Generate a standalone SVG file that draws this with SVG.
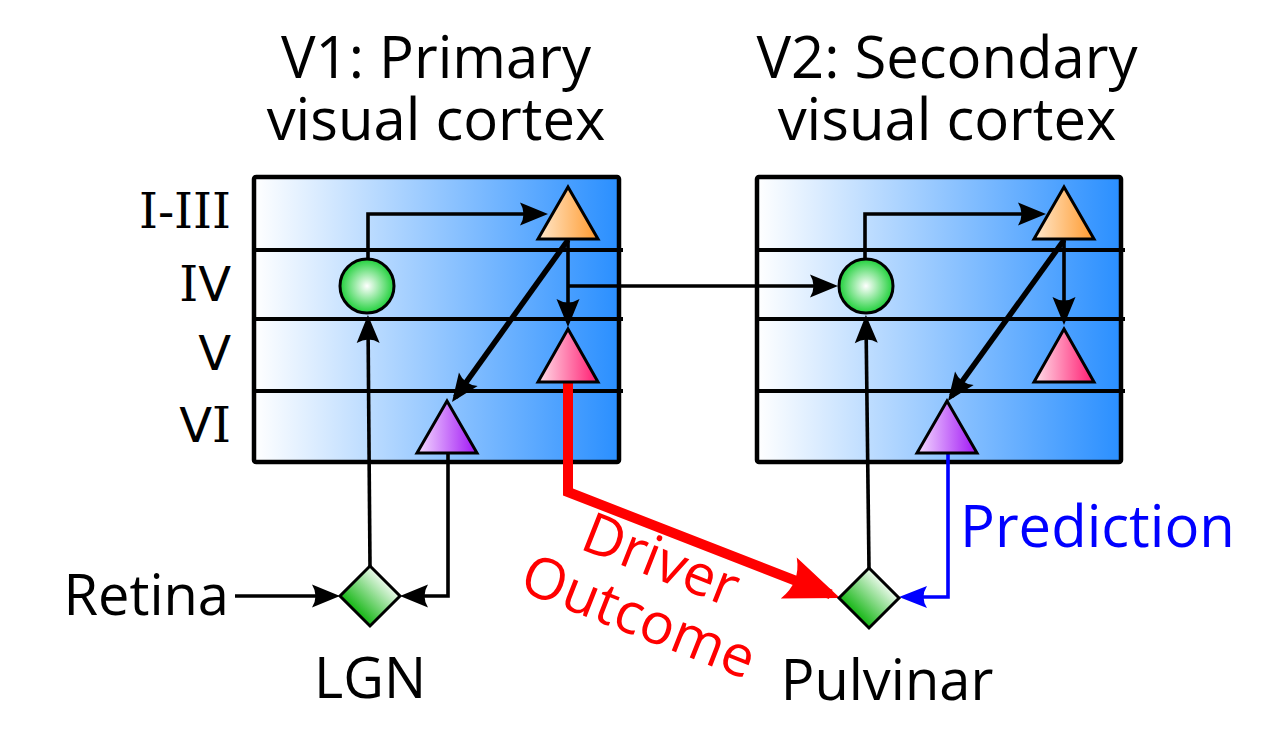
<svg xmlns="http://www.w3.org/2000/svg" width="1280" height="756" viewBox="0 0 1280 756">
<style>
text{font-family:"Open Sans","Noto Sans","DejaVu Sans",sans-serif;fill:#000}
.title{font-size:58px;text-anchor:middle}
.lbl{font-size:56px}
.layer{font-size:48px;text-anchor:end;font-family:"DejaVu Sans",sans-serif}
.ser{font-family:"DejaVu Serif",serif}
.box{stroke:#000;stroke-width:4.5;fill:url(#boxGrad)}
.sep{stroke:#000;stroke-width:4;fill:none}
.node{stroke:#000;stroke-width:3;stroke-linejoin:miter}
.conn{fill:none;stroke:#000;stroke-width:3.6;stroke-linejoin:miter}
.thick{stroke-width:5.5}
</style>
<defs>
<linearGradient id="boxGrad" x1="0" y1="0" x2="1" y2="0"><stop offset="0" stop-color="#ffffff"/><stop offset="1" stop-color="#2a8fff"/></linearGradient>
<radialGradient id="circGrad" cx="0.5" cy="0.5" r="0.5"><stop offset="0" stop-color="#ffffff"/><stop offset="1" stop-color="#1fd03a"/></radialGradient>
<linearGradient id="orGrad" x1="0" y1="0" x2="1" y2="0"><stop offset="0" stop-color="#ffe8cc"/><stop offset="1" stop-color="#ff9a2e"/></linearGradient>
<linearGradient id="pkGrad" x1="0" y1="0" x2="1" y2="0"><stop offset="0" stop-color="#ffe0ea"/><stop offset="1" stop-color="#ff1a70"/></linearGradient>
<linearGradient id="puGrad" x1="0" y1="0" x2="1" y2="0"><stop offset="0" stop-color="#f5dcff"/><stop offset="1" stop-color="#a015f5"/></linearGradient>
<linearGradient id="dmGrad" x1="0.8" y1="0.2" x2="0.2" y2="0.8"><stop offset="0" stop-color="#ffffff"/><stop offset="1" stop-color="#00b000"/></linearGradient>
<marker id="arrB" markerUnits="userSpaceOnUse" viewBox="-24 -12 32 24" markerWidth="32" markerHeight="24" refX="0" refY="0" orient="auto"><path d="M6,0 L-22,-11.5 Q-15,0 -22,11.5 Z" fill="#000"/></marker>
<marker id="arrU" markerUnits="userSpaceOnUse" viewBox="-24 -12 32 24" markerWidth="32" markerHeight="24" refX="0" refY="0" orient="auto"><path d="M6,0 L-22,-11 Q-15,0 -22,11 Z" fill="#0000ff"/></marker>
<marker id="arrR" markerUnits="userSpaceOnUse" viewBox="-48 -24 60 48" markerWidth="60" markerHeight="48" refX="0" refY="0" orient="auto"><path d="M10,0 L-45,-22 Q-32,0 -45,22 Z" fill="#ff0000"/></marker>
</defs>

<rect width="1280" height="756" fill="#ffffff"/>

<g id="v1-title"><text class="title"><tspan x="436" y="78">V1: Primary</tspan><tspan x="436" y="140">visual cortex</tspan></text></g>
<g id="v2-title"><text class="title"><tspan x="947" y="78">V2: Secondary</tspan><tspan x="947" y="140">visual cortex</tspan></text></g>

<g id="layer-labels">
<text class="layer" x="231" y="228"><tspan class="ser">I-III</tspan></text>
<text class="layer" x="231" y="301"><tspan class="ser">I</tspan>V</text>
<text class="layer" x="231" y="370">V</text>
<text class="layer" x="231" y="442">V<tspan class="ser">I</tspan></text>
</g>

<g id="v1-box">
<rect class="box" x="254" y="177" width="365" height="285" rx="2"/>
<path class="sep" d="M254,250 H623 M254,319 H623 M254,391 H623"/>
</g>
<g id="v2-box">
<rect class="box" x="757" y="177" width="364" height="285" rx="2"/>
<path class="sep" d="M757,250 H1125 M757,319 H1125 M757,391 H1125"/>
</g>

<g id="connectors">
<path class="conn" d="M235,596 H334" marker-end="url(#arrB)"/>
<path class="conn" d="M370,566 L368,321" marker-end="url(#arrB)"/>
<path class="conn" d="M448,453 V596 H406" marker-end="url(#arrB)"/>
<path class="conn" d="M368,259 V214 H542" marker-end="url(#arrB)"/>
<path class="conn" d="M568,240 V321" marker-end="url(#arrB)"/>
<path class="conn" d="M568,286 H832" marker-end="url(#arrB)"/>
<path class="conn thick" d="M568,240 L455.5,397.1" marker-end="url(#arrB)"/>
<path class="conn" d="M865,259 V214 H1040" marker-end="url(#arrB)"/>
<path class="conn" d="M1064,240 V319" marker-end="url(#arrB)"/>
<path class="conn thick" d="M1064,240 L951.5,396.1" marker-end="url(#arrB)"/>
<path class="conn" d="M869,568 L866,321" marker-end="url(#arrB)"/>
<path class="conn" d="M948,453 V597 H905" style="stroke:#0000ff" marker-end="url(#arrU)"/>
<path class="conn" d="M568,382 V492 L830.7,594.4" style="stroke:#ff0000;stroke-width:10" marker-end="url(#arrR)"/>
</g>

<g id="v1-iv-cell"><circle class="node" cx="367" cy="286" r="27" fill="url(#circGrad)"/></g>
<g id="v1-i-iii-cell"><path class="node" d="M568,187 L598,239 L538,239 Z" fill="url(#orGrad)"/></g>
<g id="v1-v-cell"><path class="node" d="M568,329 L598,382 L538,382 Z" fill="url(#pkGrad)"/></g>
<g id="v1-vi-cell"><path class="node" d="M447,401 L477,453 L417,453 Z" fill="url(#puGrad)"/></g>

<g id="v2-iv-cell"><circle class="node" cx="866" cy="286" r="27" fill="url(#circGrad)"/></g>
<g id="v2-i-iii-cell"><path class="node" d="M1064,187 L1094,239 L1034,239 Z" fill="url(#orGrad)"/></g>
<g id="v2-v-cell"><path class="node" d="M1064,329 L1094,382 L1034,382 Z" fill="url(#pkGrad)"/></g>
<g id="v2-vi-cell"><path class="node" d="M947,401 L977,453 L917,453 Z" fill="url(#puGrad)"/></g>

<g id="lgn">
<path class="node" d="M370,566 L400,596 L370,626 L340,596 Z" fill="url(#dmGrad)"/>
<text class="lbl" x="370" y="698" text-anchor="middle">LGN</text>
</g>
<g id="pulvinar">
<path class="node" d="M869,568 L899,598 L869,628 L839,598 Z" fill="url(#dmGrad)"/>
<text class="lbl" x="887" y="700" text-anchor="middle">Pulvinar</text>
</g>
<g id="retina"><text class="lbl" x="229" y="615" text-anchor="end">Retina</text></g>
<g id="prediction-label"><text x="960" y="547" style="font-size:58px;fill:#0000ff">Prediction</text></g>
<g id="driver-label"><text transform="translate(654,578) rotate(21.5)" text-anchor="middle" style="font-size:57px;fill:#ff0000"><tspan x="0" y="0">Driver</tspan><tspan x="0" y="61">Outcome</tspan></text></g>
</svg>
